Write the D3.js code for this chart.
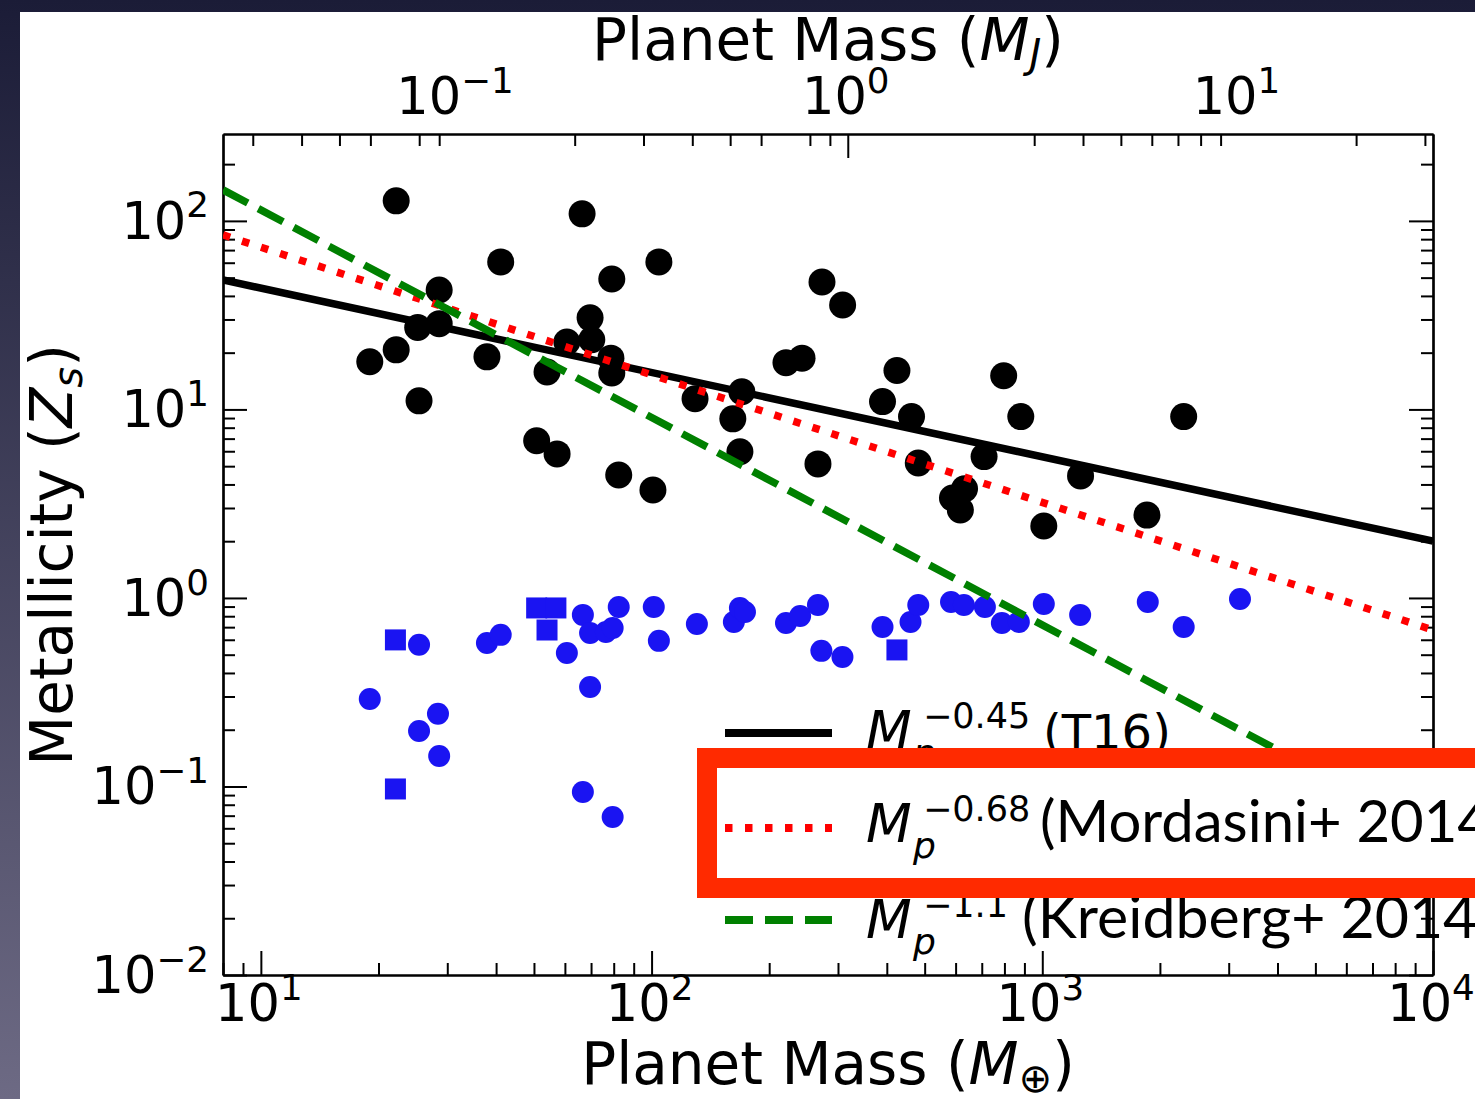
<!DOCTYPE html>
<html><head><meta charset="utf-8">
<script src="https://cdn.jsdelivr.net/npm/d3@7"></script>
<style>html,body{margin:0;padding:0;overflow:hidden;background:#1c1d38}</style>
</head><body>
<svg id="chart" width="1475" height="1099"></svg>
<script>
// ---------------- data ----------------
const blackMass = [19.0,22.2,22.2,25.4,25.2,28.6,28.6,37.9,41.1,50.8,54.0,57.3,60.7,66.4,69.6,70.3,78.7,79.1,79.1,82.4,100.8,104.4,129.2,161.4,170.2,168.3,220.8,242.7,266.6,273,308.3,390,424.6,462.7,481.5,589,632.4,617,709.6,796.5,881,1009,1253,1853,2301];
const blackZ    = [17.9,20.7,127.7,11.1,27.2,43.0,28.5,19.0,60.6,6.82,15.8,5.81,22.8,109,30.6,23.4,18.7,15.6,49.2,4.49,3.74,60.6,11.4,8.91,12.4,5.96,17.7,18.7,5.14,47.4,35.8,11.0,16.1,9.16,5.20,3.39,3.79,2.93,5.62,15.1,9.16,2.41,4.44,2.75,9.16];

const blueMass  = [19.0,22.1,25.4,28.4,25.4,28.6,22.1,37.9,41.1,50.8,56.9,54.0,66.7,82.4,69.6,76.4,79.5,60.7,69.6,66.7,79.5,101.3,104.4,130.6,162.4,168.3,173.4,220.8,240,266.6,272,308,390,424.6,460,481.5,584,630,713,788,871,1009,1250,1862,2301,3206];
const blueZ     = [0.291,0.599,0.564,0.243,0.197,0.145,0.0970,0.577,0.637,0.885,0.885,0.676,0.813,0.895,0.652,0.660,0.693,0.511,0.337,0.0935,0.0689,0.895,0.592,0.728,0.746,0.885,0.843,0.736,0.803,0.918,0.524,0.486,0.702,0.530,0.746,0.918,0.952,0.918,0.895,0.736,0.746,0.929,0.813,0.952,0.702,0.988];
const blueShape = ["c","s","c","c","c","c","s","c","c","s","s","s","c","c","c","c","c","c","c","c","c","c","c","c","c","c","c","c","c","c","c","c","c","s","c","c","c","c","c","c","c","c","c","c","c","c"];

// power-law relations, end points at the plot edges
const fitExp    = ["−0.45","−0.68","−1.1"];
const fitRef    = ["(T16)","(Mordasini+ 2014)","(Kreidberg+ 2014)"];
const fitMass   = [8, 10000];
const fitZ_T16  = [48.6, 2.0];
const fitZ_Mord = [84.3, 0.676];
const fitZ_Kreid= [146, 0.057];

// ticks
const xMajor = [10,100,1000,10000];
const xMinor = [8,9,20,30,40,50,60,70,80,90,200,300,400,500,600,700,800,900,2000,3000,4000,5000,6000,7000,8000,9000];
const yMajor = [0.01,0.1,1,10,100];
const yMinor = [0.02,0.03,0.04,0.05,0.06,0.07,0.08,0.09,0.2,0.3,0.4,0.5,0.6,0.7,0.8,0.9,2,3,4,5,6,7,8,9,20,30,40,50,60,70,80,90,200];
const topMajorMJ = [1];
const topMinorMJ = [0.03,0.04,0.05,0.06,0.08,0.09,0.2,0.3,0.4,0.5,0.6,0.8,0.9,3,4,5,6,7,8,9,20,30];
const topLabelMJ = [0.1,1,10];
const xLabelExp = ["1","2","3","4"];
const yLabelExp = ["−2","−1","0","1","2"];
const topLabelExp = ["−1","0","1"];
const EARTH_PER_JUP = 317.8;

// ---------------- layout ----------------
const W = 1475, H = 1099;
const L = 223, R = 1433, T = 134, B = 975;
const svg = d3.select("#chart");

const defs = svg.append("defs");
const grad = defs.append("linearGradient").attr("id","bg").attr("x1",0).attr("y1",0).attr("x2",0).attr("y2",1);
grad.append("stop").attr("offset","0%").attr("stop-color","#1b1c37");
grad.append("stop").attr("offset","100%").attr("stop-color","#6d6a84");
defs.append("clipPath").attr("id","plotclip").append("rect").attr("x",L).attr("y",T).attr("width",R-L).attr("height",B-T);

svg.append("rect").attr("width",W).attr("height",H).attr("fill","url(#bg)");
svg.append("rect").attr("x",20).attr("y",12).attr("width",W-20).attr("height",H-12).attr("fill","#ffffff");

const x = d3.scaleLog().domain([8,10000]).range([L,R]);
const xTop = d3.scaleLog().domain([8/EARTH_PER_JUP,10000/EARTH_PER_JUP]).range([L,R]);
const y = d3.scaleLog().domain([0.01,289]).range([B,T]);

const FONT = "'DejaVu Sans', sans-serif";
const MAJ = 24, MIN = 12;

function styleAxis(g){
  g.selectAll("path.domain").attr("stroke","#000").attr("stroke-width",2.2);
  g.selectAll(".tick line").attr("stroke","#000").attr("stroke-width",2);
  g.selectAll(".tick text").remove();
}
function addAxis(gen, tx, ty, vals, len){
  svg.append("g").attr("transform",`translate(${tx},${ty})`)
    .call(gen.tickValues(vals).tickSizeInner(-len).tickSizeOuter(0).tickFormat("")).call(styleAxis);
}
addAxis(d3.axisBottom(x), 0, B, xMajor, MAJ);
addAxis(d3.axisBottom(x), 0, B, xMinor, MIN);
addAxis(d3.axisTop(xTop), 0, T, topMajorMJ, MAJ);
addAxis(d3.axisTop(xTop), 0, T, topMinorMJ, MIN);
addAxis(d3.axisLeft(y), L, 0, yMajor, MAJ);
addAxis(d3.axisLeft(y), L, 0, yMinor, MIN);
addAxis(d3.axisRight(y), R, 0, yMajor, MAJ);
addAxis(d3.axisRight(y), R, 0, yMinor, MIN);

// tick labels
function powLabel(sel, xpos, ypos, anchor, exp, size){
  const t = sel.append("text").attr("x",xpos).attr("y",ypos).attr("text-anchor",anchor)
    .attr("font-family",FONT).attr("font-size",size).attr("fill","#000");
  t.append("tspan").text("10");
  t.append("tspan").attr("dy",-size*0.42).attr("font-size",size*0.7).text(exp);
  return t;
}
xMajor.forEach((v,i)=>powLabel(svg, x(v)-2, 1021, "middle", xLabelExp[i], 51));
yMajor.forEach((v,i)=>powLabel(svg, 209, y(v)+18, "end", yLabelExp[i], 51));
topLabelMJ.forEach((v,i)=>powLabel(svg, xTop(v)-2, 114, "middle", topLabelExp[i], 51));

// axis titles
function massTitle(ypos, sub, subDy){
  const t = svg.append("text").attr("x",828).attr("y",ypos).attr("text-anchor","middle")
    .attr("font-family",FONT).attr("font-size",58).attr("fill","#000");
  t.append("tspan").text("Planet Mass (");
  t.append("tspan").attr("font-style","italic").text("M");
  t.append("tspan").attr("font-size",40).attr("dy",subDy).attr("font-style", sub==="J"?"italic":"normal").text(sub);
  t.append("tspan").attr("dy",-subDy).text(")");
}
massTitle(60,"J",8);
massTitle(1084,"⊕",8);
const yt = svg.append("text").attr("transform","translate(72,555) rotate(-90)").attr("text-anchor","middle")
  .attr("font-family",FONT).attr("font-size",58).attr("fill","#000");
yt.append("tspan").text("Metallicity (");
yt.append("tspan").attr("font-style","italic").text("Z");
yt.append("tspan").attr("font-size",40).attr("dy",10).attr("font-style","italic").text("s");
yt.append("tspan").attr("dy",-10).text(")");

// ---------------- marks ----------------
const plot = svg.append("g").attr("clip-path","url(#plotclip)");
const line = d3.line().x(d=>x(d[0])).y(d=>y(d[1]));
const fits = [
  {z:fitZ_T16, color:"#000000", dash:null},
  {z:fitZ_Mord, color:"#ff0000", dash:"7.5,12.5"},
  {z:fitZ_Kreid, color:"#008000", dash:"28,12"}
];
blueMass.forEach((m,i)=>{
  if(blueShape[i]==="s"){
    plot.append("rect").attr("x",x(m)-10.5).attr("y",y(blueZ[i])-10.5).attr("width",21).attr("height",21).attr("fill","#1a14f2");
  } else {
    plot.append("circle").attr("cx",x(m)).attr("cy",y(blueZ[i])).attr("r",11).attr("fill","#1a14f2");
  }
});
plot.selectAll("circle.bk").data(blackMass).join("circle").attr("class","bk")
  .attr("cx",d=>x(d)).attr("cy",(d,i)=>y(blackZ[i])).attr("r",13.5).attr("fill","#000");
fits.forEach(f=>{
  plot.append("path").attr("d",line(fitMass.map((m,i)=>[m,f.z[i]])))
    .attr("fill","none").attr("stroke",f.color).attr("stroke-width",7.5)
    .attr("stroke-dasharray",f.dash);
});

// ---------------- legend ----------------
const rowsY = [733, 828, 920];
const baseY = [749, 842, 938];
function legendLine(i){
  const f = fits[i];
  svg.append("line").attr("x1",725).attr("x2",832).attr("y1",rowsY[i]).attr("y2",rowsY[i])
    .attr("stroke",f.color).attr("stroke-width",8).attr("stroke-dasharray",f.dash);
}
function mathM(i){
  const by = baseY[i];
  svg.append("text").attr("x",866).attr("y",by).attr("font-family",FONT).attr("font-style","italic")
    .attr("font-size",53).attr("fill","#000").text("M");
  svg.append("text").attr("x",913).attr("y",by+16).attr("font-family",FONT).attr("font-style","italic")
    .attr("font-size",36).attr("fill","#000").text("p");
  svg.append("text").attr("x",923).attr("y",by-21).attr("font-family",FONT)
    .attr("font-size",35).attr("fill","#000").text(fitExp[i]);
}
const SLIDE_FONT = "Lato, 'Open Sans', sans-serif";
legendLine(0); mathM(0);
svg.append("text").attr("x",1043).attr("y",baseY[0]).attr("font-family",FONT).attr("font-size",48).attr("fill","#000").text(fitRef[0]);
legendLine(2); mathM(2);
svg.append("text").attr("x",1022).attr("y",baseY[2]).attr("font-family",SLIDE_FONT).attr("font-size",59).attr("fill","#000").text(fitRef[2]);

// highlight box around row 2
svg.append("rect").attr("x",707).attr("y",758).attr("width",820).attr("height",130)
  .attr("fill","#ffffff").attr("stroke","#ff2a00").attr("stroke-width",20);
legendLine(1); mathM(1);
svg.append("text").attr("x",1040).attr("y",baseY[1]).attr("font-family",SLIDE_FONT).attr("font-size",58).attr("fill","#000").text(fitRef[1]);
</script>
</body></html>
